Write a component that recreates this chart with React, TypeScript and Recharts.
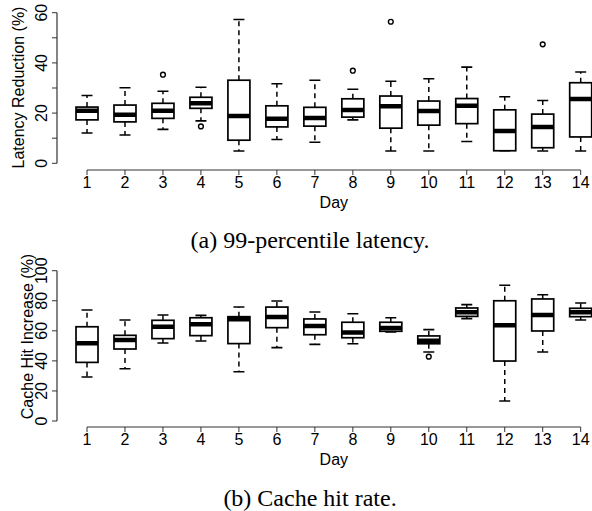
import { ComposedChart, Bar, Scatter, XAxis, YAxis, ReferenceLine } from "recharts";

const days = [1, 2, 3, 4, 5, 6, 7, 8, 9, 10, 11, 12, 13, 14];

// (a) 99-percentile latency reduction, %
const latLow = [12.1, 11.3, 13.5, 16.9, 4.9, 9.5, 8.4, 17.3, 4.9, 4.9, 8.7, 5.0, 4.9, 4.9];
const latQ1 = [17.3, 16.5, 17.9, 21.9, 9.2, 14.5, 14.8, 18.4, 14.0, 15.2, 15.8, 5.0, 6.2, 10.5];
const latMedian = [20.9, 19.3, 20.9, 23.9, 18.8, 17.7, 18.0, 21.2, 22.7, 20.8, 22.9, 12.9, 14.5, 25.6];
const latQ3 = [22.4, 23.2, 23.9, 26.3, 33.1, 22.9, 22.3, 25.7, 26.8, 24.8, 25.8, 21.3, 19.6, 32.1];
const latHigh = [27.0, 30.1, 28.7, 30.3, 57.3, 31.7, 33.1, 29.5, 32.7, 33.7, 38.3, 26.5, 25.0, 36.4];
const latOutliers = [
  { day: 3, value: 35.3 },
  { day: 4, value: 14.7 },
  { day: 8, value: 36.9 },
  { day: 9, value: 56.4 },
  { day: 13, value: 47.4 },
];
const latTicks = [0, 10, 20, 30, 40, 50, 60];

// (b) cache hit rate increase, %
const hitLow = [29.3, 34.8, 51.9, 53.2, 32.8, 48.8, 51.0, 51.4, 59.2, 45.9, 68.1, 13.3, 45.9, 67.2];
const hitQ1 = [39.0, 47.9, 54.8, 56.8, 51.5, 62.1, 57.4, 55.4, 59.7, 51.4, 69.6, 39.9, 59.9, 69.4];
const hitMedian = [51.7, 53.9, 62.7, 64.3, 67.7, 69.2, 63.2, 58.8, 61.9, 53.4, 72.3, 63.7, 70.5, 72.3];
const hitQ3 = [62.7, 57.0, 67.0, 68.7, 69.4, 75.8, 67.9, 65.7, 65.7, 56.6, 75.2, 80.0, 81.2, 75.0];
const hitHigh = [73.9, 67.2, 70.5, 70.3, 75.8, 79.8, 72.5, 71.4, 68.7, 60.8, 77.4, 90.3, 84.0, 78.5];
const hitOutliers = [{ day: 10, value: 42.8 }];
const hitTicks = [0, 10, 20, 30, 40, 50, 60, 70, 80, 90, 100];

const SANS = "'Liberation Sans', Arial, sans-serif";
const SERIF = "'Liberation Serif', 'Times New Roman', serif";
const X_MIN = 0.21;
const X_MAX = 14.298;

function buildRows(low: number[], q1: number[], median: number[], q3: number[], high: number[]) {
  return days.map((day, i) => ({
    day,
    low: low[i],
    q1: q1[i],
    median: median[i],
    q3: q3[i],
    high: high[i],
    range: [low[i], high[i]],
  }));
}

function BoxShape(props: any) {
  const { x, y, width, height, payload } = props;
  const top = Math.min(y, y + height);
  const bottom = Math.max(y, y + height);
  const { low, q1, median, q3, high } = payload;
  const py = (v: number) => (high === low ? top : bottom - ((v - low) / (high - low)) * (bottom - top));
  const cx = x + width / 2;
  const cap = width / 4;
  return (
    <g>
      <line x1={cx} x2={cx} y1={py(q3)} y2={py(high)} stroke="#000" strokeWidth={1.5} strokeDasharray="5 4" />
      <line x1={cx} x2={cx} y1={py(q1)} y2={py(low)} stroke="#000" strokeWidth={1.5} strokeDasharray="5 4" />
      <line x1={cx - cap} x2={cx + cap} y1={py(high)} y2={py(high)} stroke="#000" strokeWidth={1.6} />
      <line x1={cx - cap} x2={cx + cap} y1={py(low)} y2={py(low)} stroke="#000" strokeWidth={1.6} />
      <rect x={x} y={py(q3)} width={width} height={py(q1) - py(q3)} fill="#fff" stroke="#000" strokeWidth={1.7} />
      <line x1={x} x2={x + width} y1={py(median)} y2={py(median)} stroke="#000" strokeWidth={4.5} />
    </g>
  );
}

function Outlier(props: any) {
  return <circle cx={props.cx} cy={props.cy} r={2.4} fill="none" stroke="#000" strokeWidth={1.4} />;
}

function YTick(props: any) {
  const { x, y, payload } = props;
  if (payload.value % 20 !== 0) return <g />;
  return (
    <text x={x} y={y} transform={`rotate(-90 ${x} ${y})`} textAnchor="middle" fontSize={16} fontFamily={SANS} fill="#000">
      {payload.value}
    </text>
  );
}

function DayLabel(props: any) {
  const vb = props.viewBox || { x: 57, y: 0, width: 535 };
  const cx = vb.x + ((7.5 - X_MIN) / (X_MAX - X_MIN)) * vb.width;
  return (
    <text x={cx} y={vb.y + 38} textAnchor="middle" fontSize={16} fontFamily={SANS} fill="#000">
      Day
    </text>
  );
}

function Panel(props: {
  rows: any[];
  outliers: { day: number; value: number }[];
  ticks: number[];
  yMin: number;
  yMax: number;
  yLabel: string;
  labelCy: number;
  top: number;
  height: number;
  marginTop: number;
}) {
  const { rows, outliers, ticks, yMin, yMax, yLabel, labelCy, top, height, marginTop } = props;
  return (
    <div style={{ position: "absolute", left: 0, top }}>
      <ComposedChart width={592} height={height} data={rows} margin={{ top: marginTop, right: 0, bottom: 0, left: 0 }}>
        <XAxis
          dataKey="day"
          type="number"
          domain={[X_MIN, X_MAX]}
          allowDataOverflow
          ticks={days}
          height={45}
          axisLine={false}
          stroke="#333"
          tickSize={5}
          tickMargin={2}
          tick={{ fill: "#000", fontSize: 16, fontFamily: SANS }}
          label={<DayLabel />}
        />
        <YAxis
          type="number"
          domain={[yMin, yMax]}
          allowDataOverflow
          ticks={ticks}
          width={57}
          axisLine={false}
          stroke="#333"
          tickSize={5}
          tickMargin={5}
          tick={<YTick />}
          label={
            <text
              x={24.5}
              y={labelCy}
              transform={`rotate(-90 24.5 ${labelCy})`}
              textAnchor="middle"
              fontSize={16}
              fontFamily={SANS}
              fill="#000"
            >
              {yLabel}
            </text>
          }
        />
        <ReferenceLine segment={[{ x: 1, y: yMin }, { x: 14, y: yMin }]} stroke="#333" strokeWidth={1.2} ifOverflow="visible" />
        <ReferenceLine segment={[{ x: X_MIN, y: 0 }, { x: X_MIN, y: yMax }]} stroke="#333" strokeWidth={1.2} ifOverflow="visible" />
        <Bar dataKey="range" barSize={22} shape={<BoxShape />} isAnimationActive={false} />
        <Scatter data={outliers} dataKey="value" shape={<Outlier />} isAnimationActive={false} />
      </ComposedChart>
    </div>
  );
}

const captionStyle: any = {
  position: "absolute",
  left: 310,
  transform: "translateX(-50%)",
  whiteSpace: "nowrap",
  fontFamily: SERIF,
  fontSize: 24,
  lineHeight: "24px",
  color: "#000",
};

export default function App() {
  const latRows = buildRows(latLow, latQ1, latMedian, latQ3, latHigh);
  const hitRows = buildRows(hitLow, hitQ1, hitMedian, hitQ3, hitHigh);
  return (
    <div style={{ position: "absolute", left: 0, top: 0, width: 592, height: 511, overflow: "hidden", background: "#fff" }}>
      <Panel
        rows={latRows}
        outliers={latOutliers}
        ticks={latTicks}
        yMin={-2.67}
        yMax={60}
        yLabel="Latency Reduction (%)"
        labelCy={91.5}
        top={0}
        height={215}
        marginTop={12.7}
      />
      <div style={{ ...captionStyle, top: 228 }}>(a) 99-percentile latency.</div>
      <Panel
        rows={hitRows}
        outliers={hitOutliers}
        ticks={hitTicks}
        yMin={-3.99}
        yMax={100}
        yLabel="Cache Hit Increase (%)"
        labelCy={85.5}
        top={255}
        height={217}
        marginTop={15.7}
      />
      <div style={{ ...captionStyle, top: 486 }}>(b) Cache hit rate.</div>
    </div>
  );
}
